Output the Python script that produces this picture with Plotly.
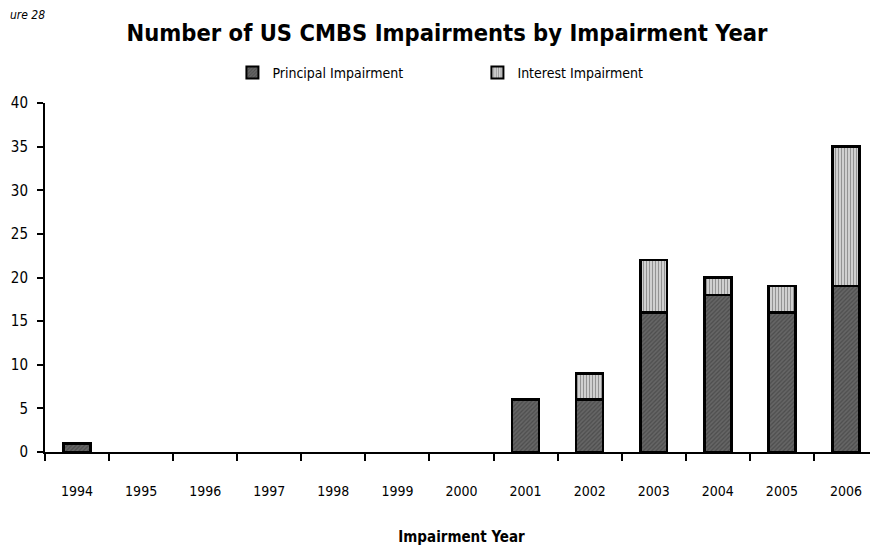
import plotly.graph_objects as go

years = ["1994", "1995", "1996", "1997", "1998", "1999", "2000",
         "2001", "2002", "2003", "2004", "2005", "2006"]
principal = [1, 0, 0, 0, 0, 0, 0, 6, 6, 16, 18, 16, 19]
interest = [0, 0, 0, 0, 0, 0, 0, 0, 3, 6, 2, 3, 16]
y_ticks = [0, 5, 10, 15, 20, 25, 30, 35, 40]

FONT = "DejaVu Sans Condensed, Liberation Sans Narrow, Arial Narrow, sans-serif"

def masked(vals):
    return [v if v > 0 else None for v in vals]

fig = go.Figure()
fig.add_trace(go.Bar(
    x=years, y=masked(principal), name="Principal Impairment",
    width=0.42,
    marker=dict(color="#666666",
                line=dict(color="black", width=2.5),
                pattern=dict(shape="/", fgcolor="#333333", size=3, solidity=0.4)),
))
fig.add_trace(go.Bar(
    x=years, y=masked(interest), name="Interest Impairment",
    width=0.42,
    marker=dict(color="#d0d0d0",
                line=dict(color="black", width=2.5),
                pattern=dict(shape="|", fgcolor="#555555", size=3, solidity=0.35)),
))

W, H = 870, 545
fig.update_layout(
    barmode="stack",
    width=W, height=H,
    margin=dict(l=37, r=0, t=95, b=101, autoexpand=False),
    paper_bgcolor="white", plot_bgcolor="white",
    font=dict(family=FONT, size=14, color="black"),
    title=dict(text="<b>Number of US CMBS Impairments by Impairment Year</b>",
               x=439 / W, xanchor="center", y=1 - 25 / H, yanchor="middle",
               font=dict(family=FONT, size=23.5, color="black")),
    legend=dict(orientation="h", x=0.225, xanchor="left", y=1.086, yanchor="middle",
                entrywidth=200, entrywidthmode="pixels", traceorder="normal",
                itemwidth=30,
                font=dict(family=FONT, size=14), itemsizing="constant"),
    showlegend=True,
    annotations=[dict(text="<i>ure 28</i>", xref="paper", yref="paper",
                      x=-37 / 833, y=1 + 88 / 349, xanchor="left", yanchor="middle",
                      showarrow=False, font=dict(family=FONT, size=12, color="black"))],
)

fig.update_xaxes(
    type="category", showline=True, linecolor="black", linewidth=2,
    ticks="outside", tickson="boundaries", ticklen=7, tickwidth=2, tickcolor="black",
    ticklabelstandoff=25, tickfont=dict(size=14), automargin=False,
    title=dict(text="<b>Impairment Year</b>", standoff=34, font=dict(size=15)),
    showgrid=False,
)
fig.update_yaxes(
    range=[0, 40], tickvals=y_ticks, showline=True, linecolor="black", linewidth=2,
    ticks="outside", ticklen=6, tickwidth=2, tickcolor="black", automargin=False,
    ticklabelstandoff=6, tickfont=dict(size=15), showgrid=False, zeroline=False,
)

fig.write_html("out.html")
